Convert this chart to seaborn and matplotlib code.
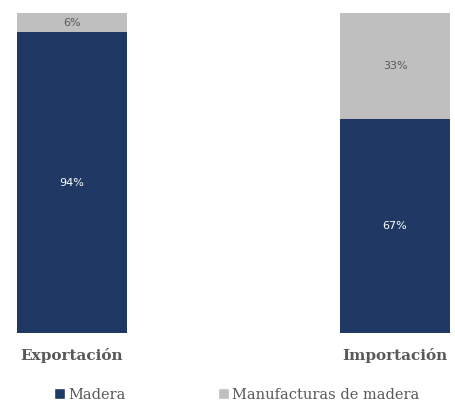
import matplotlib
matplotlib.use('Agg')
import matplotlib.pyplot as plt
import pandas as pd
import seaborn as sns
from matplotlib.patches import Patch

categorias = ['Exportación', 'Importación']
madera = [94, 67]
manufacturas = [6, 33]

navy = '#1F3864'
gris = '#BFBFBF'
texto = '#595959'

df = pd.DataFrame({'cat': categorias, 'madera': madera,
                   'manuf': manufacturas})
df['total'] = df['madera'] + df['manuf']

sns.set_style('white')
fig = plt.figure(figsize=(4.55, 4.03), dpi=100)
ax = fig.add_axes([0.0374, 0.1737, 0.9516, 0.794])

w = 0.34
sns.barplot(data=df, x='cat', y='total', color=gris, width=w,
            saturation=1, linewidth=0, ax=ax)
sns.barplot(data=df, x='cat', y='madera', color=navy, width=w,
            saturation=1, linewidth=0, ax=ax)

for i, row in df.iterrows():
    ax.text(i, row['madera'] / 2, f"{row['madera']}%", ha='center',
            va='center', color='white', fontsize=8)
    ax.text(i, row['madera'] + row['manuf'] / 2, f"{row['manuf']}%",
            ha='center', va='center', color=texto, fontsize=8)

ax.set_xlim(-w / 2, 1 + w / 2)
ax.set_ylim(0, 100)
ax.set_xlabel('')
ax.set_ylabel('')
ax.set_yticks([])
ax.set_xticks([])
for s in ax.spines.values():
    s.set_visible(False)

for i, c in enumerate(categorias):
    ax.text(i, -7, c, ha='center', va='center', fontsize=11,
            fontweight='bold', color=texto, family='DejaVu Serif',
            transform=ax.transData)

handles = [Patch(facecolor=navy, label='Madera'),
           Patch(facecolor=gris, label='Manufacturas de madera')]
fig.legend(handles=handles, loc='center', bbox_to_anchor=(0.52, 0.02),
           ncol=2, frameon=False, handlelength=0.8, handleheight=0.8,
           handletextpad=0.2, columnspacing=6.3,
           prop={'family': 'DejaVu Serif', 'size': 10.5},
           labelcolor=texto)

fig.savefig('out.png', dpi=100)
